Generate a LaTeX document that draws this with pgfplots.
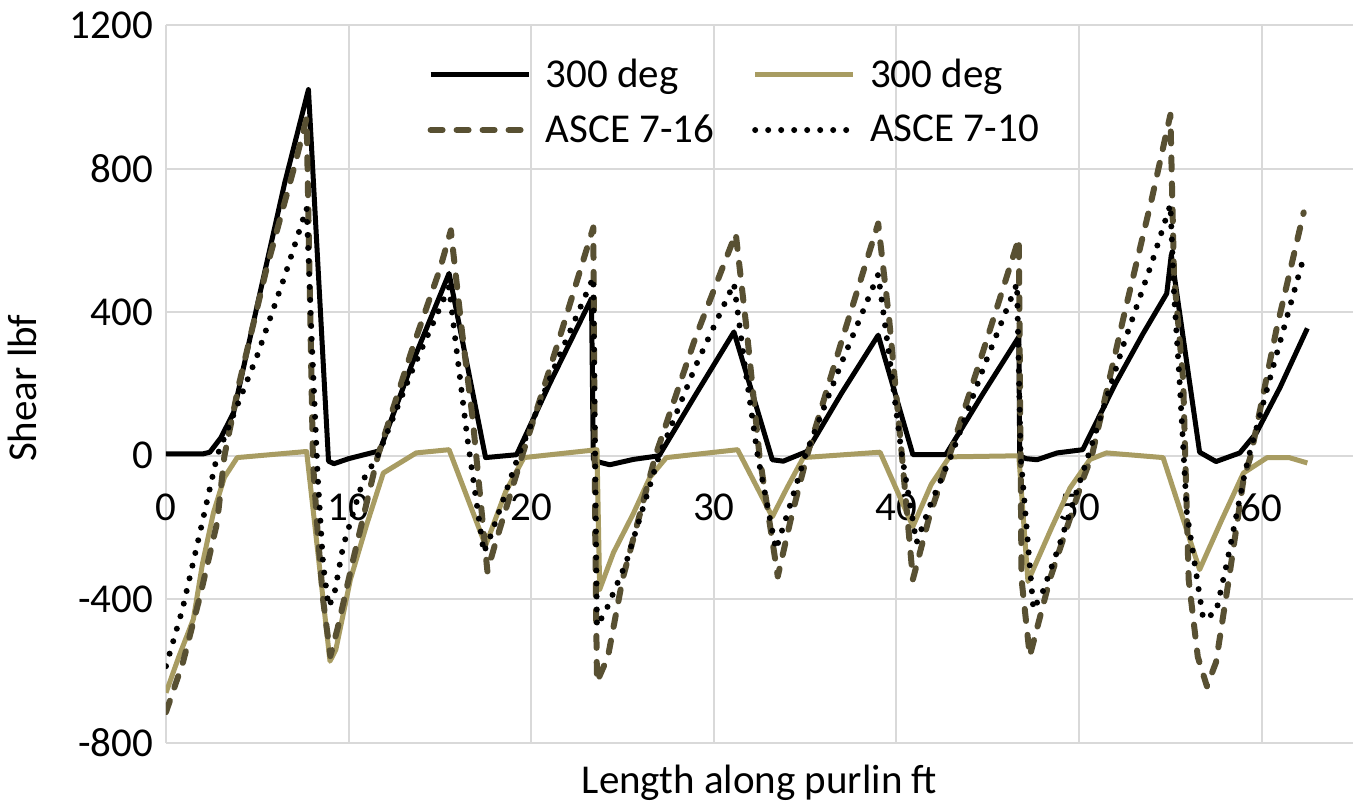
\documentclass[border=0pt]{standalone}
\usepackage{fontspec}
\setmainfont{Carlito}
\usepackage{pgfplots}
\pgfplotsset{compat=1.18}
\definecolor{tgold}{RGB}{168,156,98}
\definecolor{dgold}{RGB}{88,80,50}
\definecolor{gridgray}{RGB}{217,217,217}

\begin{document}
\begin{tikzpicture}
\begin{axis}[name=ax, scale only axis, width=593.5pt, height=359pt,
    xmin=0, xmax=65, ymin=-800, ymax=1200,
    xtick={0,10,...,60}, ytick={-800,-400,...,1200},
    grid=major, grid style={gridgray, line width=1pt},
    axis line style={draw=none}, major tick length=0pt,
    font=\fontsize{20.5}{24}\selectfont,
    /pgf/number format/assume math mode=true,
    /pgf/number format/1000 sep={},
    xticklabel style={yshift=128pt},
    yticklabel style={xshift=-3pt},
    xlabel={Length along purlin ft}, ylabel={Shear lbf},
    xlabel style={at={(axis description cs:0.5,-0.0557)}, anchor=center},
    ylabel style={at={(axis description cs:-0.1213,0.494)}, anchor=center},
    legend columns=2, legend cell align=left,
    legend style={at={(axis description cs:0.215,0.964)}, anchor=north west,
        draw=none, fill=none, row sep=8pt,
        /tikz/every even column/.append style={column sep=17pt}},
    legend image code/.code={\draw[#1] (0pt,0pt) -- (49pt,0pt); \path (54pt,0pt);},
    every axis plot/.append style={line join=round},
]
% 300 deg (black)
\addplot[black, line width=2.5pt] coordinates {
    (0,5) (1,5) (2,5) (2.4,10) (3,50) (3.7,120) (5,420) (6.5,760) (7.8,1020)
    (8.9,-15) (9.2,-22) (10,-8) (11.7,14) (13.5,260) (15.5,508)
    (17.5,-5) (19.2,3) (21,200) (23.3,438)
    (23.4,-10) (23.75,-18) (24.3,-25) (25.6,-10) (27,0) (29,170) (31.1,345)
    (33.2,-11) (33.8,-15) (35.1,12) (37,175) (39.0,336)
    (40.9,3) (42.7,3) (44.7,170) (46.7,331)
    (46.75,0) (47.1,-8) (47.7,-11) (48.8,8) (50.2,17) (52,202) (53.5,340) (54.8,452) (55.05,560)
    (56.6,10) (57.5,-16) (58.8,8) (59.7,63) (61,190) (62.5,355)
};
% 300 deg (gold)
\addplot[tgold, line width=2.5pt] coordinates {
    (0,-660) (0.7,-560) (1.5,-455) (2,-300) (2.6,-158) (3.2,-60) (3.9,-5) (7.7,12)
    (8.98,-572) (9.3,-540) (10.1,-344) (11,-190) (11.9,-48) (13.7,8) (15.5,17)
    (17.5,-250) (18.6,-100) (19.6,-5) (23.6,17)
    (23.75,-372) (24.5,-270) (25.6,-160) (26.5,-60) (27.4,-5) (31.3,17)
    (33.2,-170) (34.0,-90) (34.9,-5) (39.1,10)
    (40.9,-197) (41.9,-80) (42.9,-3) (46.7,0)
    (47.2,-350) (48.5,-200) (49.5,-90) (50.6,-10) (51.5,8) (54.6,-5)
    (56.6,-317) (57.8,-180) (59,-48) (60.3,-5) (61.5,-5) (62.5,-20)
};
% ASCE 7-16
\addplot[dgold, line width=3pt, line cap=round, dash pattern=on 6pt off 7pt] coordinates {
    (0,-714) (0.93,-575) (1.86,-392) (2.8,-186) (3.2,0) (4,200) (5.5,520) (7.0,800) (7.7,940)
    (8.05,-20) (8.3,-210) (8.6,-400) (9.0,-558) (9.4,-480) (10.2,-300) (11.6,0) (13.5,300) (15.0,520) (15.6,628)
    (16.2,350) (16.8,100) (17.6,-322) (18.0,-250) (19.5,0) (21.5,320) (23.4,636)
    (23.5,-200) (23.6,-630) (24.2,-560) (25.0,-344) (26.8,0) (29,330) (31.2,619)
    (31.8,350) (32.5,0) (33.5,-336) (34.2,-180) (35.1,0) (37,320) (39,647)
    (39.6,380) (40.3,0) (40.9,-344) (41.8,-170) (42.9,0) (44.8,300) (46.7,605)
    (46.85,-344) (47.3,-558) (48.4,-344) (50.2,-67) (50.7,0) (52.5,400) (54.0,720) (55.0,950)
    (55.2,500) (55.7,211) (56.0,-344) (56.5,-560) (57.0,-642) (57.5,-575) (58.2,-344) (59,-67) (59.4,0)
    (60.8,350) (62.3,678)
};
% ASCE 7-10
\addplot[black, line width=3pt, line cap=round, dash pattern=on 0pt off 6.5pt] coordinates {
    (0,-586) (0.9,-428) (1.9,-205) (2.8,0) (5,280) (6.5,500) (7.7,690)
    (8.0,300) (8.3,-50) (8.6,-300) (8.9,-420) (9.2,-390) (9.7,-252) (10.8,-67) (11.6,0) (13.5,240) (15.5,470)
    (15.9,300) (16.5,50) (17.4,-270) (17.8,-220) (19.3,0) (21.3,250) (23.4,497)
    (23.5,0) (23.6,-475) (24.1,-430) (25.2,-297) (27.0,0) (29,250) (31.1,480)
    (31.7,250) (32.4,0) (33.4,-261) (34.1,-150) (35.0,0) (37,260) (39.0,505)
    (39.6,280) (40.3,0) (41.1,-242) (41.9,-130) (43.0,0) (44.8,250) (46.6,480)
    (46.8,0) (47.5,-428) (48.0,-380) (48.9,-252) (50.5,0) (52.5,320) (54,540) (55.0,700)
    (55.2,450) (55.5,211) (55.9,-158) (56.8,-455) (57.5,-436) (58.1,-297) (59,-67) (59.3,0)
    (60.8,280) (62.3,553)
};
\legend{300 deg, 300 deg, ASCE 7-16, ASCE 7-10}
\end{axis}
\pgfresetboundingbox
\path[use as bounding box] ([xshift=-83pt,yshift=-32pt]ax.south west) rectangle ([xshift=3pt,yshift=12.5pt]ax.north east);
\end{tikzpicture}
\end{document}
